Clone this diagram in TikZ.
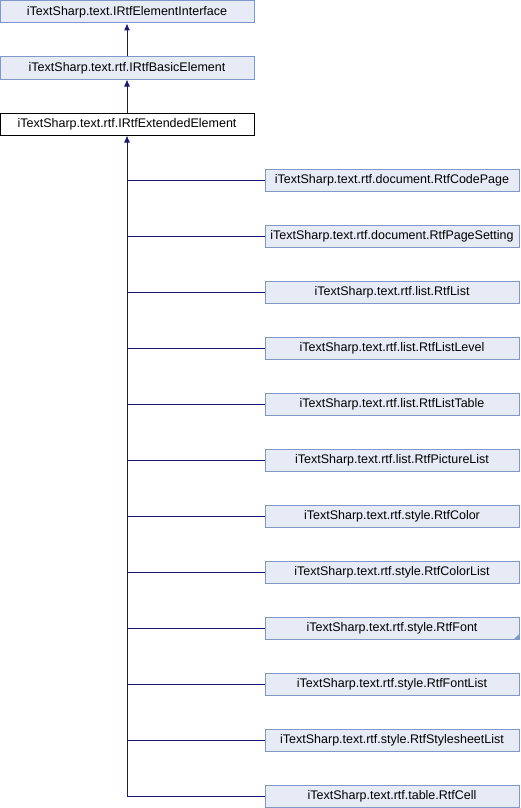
\documentclass[tikz,border=0pt]{standalone}
\usepackage{fontspec}
\setmainfont{Liberation Sans}
\usetikzlibrary{arrows.meta}
\definecolor{edgeblue}{HTML}{191970}
\definecolor{boxfill}{HTML}{E6EBF5}
\definecolor{boxline}{HTML}{7F97C9}
\tikzset{
  cls/.style={draw=boxline, fill=boxfill, line width=1pt, minimum width=254pt, minimum height=22pt, inner sep=0pt, font=\fontsize{12.5pt}{14pt}\selectfont},
  clsmain/.style={cls, draw=black, fill=white},
  inh/.style={draw=edgeblue, line width=1pt, -{Latex[length=7pt,width=6pt]}},
  conn/.style={draw=edgeblue, line width=1pt}
}
\begin{document}
\begin{tikzpicture}[x=1pt,y=-1pt]
\useasboundingbox (0,0) rectangle (520,808);
\node[cls] (a) at (127,12) {iTextSharp.text.IRtfElementInterface};
\node[cls] (b) at (127,68) {iTextSharp.text.rtf.IRtfBasicElement};
\node[clsmain] (c) at (127,124) {iTextSharp.text.rtf.IRtfExtendedElement};
\draw[inh] (b.north) -- (a.south);
\draw[inh] (c.north) -- (b.south);
\node[cls] (r1) at (392,180) {iTextSharp.text.rtf.document.RtfCodePage};
\node[cls] (r2) at (392,236) {iTextSharp.text.rtf.document.RtfPageSetting};
\node[cls] (r3) at (392,292) {iTextSharp.text.rtf.list.RtfList};
\node[cls] (r4) at (392,348) {iTextSharp.text.rtf.list.RtfListLevel};
\node[cls] (r5) at (392,404) {iTextSharp.text.rtf.list.RtfListTable};
\node[cls] (r6) at (392,460) {iTextSharp.text.rtf.list.RtfPictureList};
\node[cls] (r7) at (392,516) {iTextSharp.text.rtf.style.RtfColor};
\node[cls] (r8) at (392,572) {iTextSharp.text.rtf.style.RtfColorList};
\node[cls] (r9) at (392,628) {iTextSharp.text.rtf.style.RtfFont};
\node[cls] (r10) at (392,684) {iTextSharp.text.rtf.style.RtfFontList};
\node[cls] (r11) at (392,740) {iTextSharp.text.rtf.style.RtfStylesheetList};
\node[cls] (r12) at (392,796) {iTextSharp.text.rtf.table.RtfCell};
\fill[boxline] (r9.south east) ++(-0.5,-0.5) -- ++(-5,0) -- ++(5,-5) -- cycle;
\coordinate (bot) at (127,796);
\draw[inh] (bot) -- (c.south);
\foreach \i in {1,...,12} {
  \draw[conn] (r\i.west) -- (c.south |- r\i.west);
}
\end{tikzpicture}
\end{document}
